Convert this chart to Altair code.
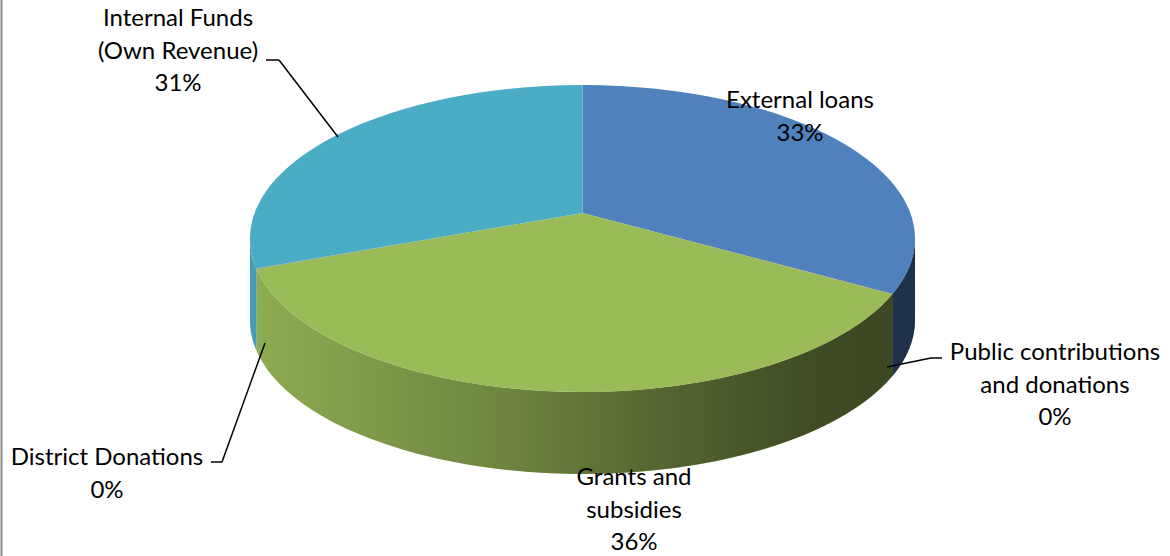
import altair as alt
import pandas as pd

# ---- data ----
CATEGORIES = ["External loans", "Public contributions and donations", "Grants and subsidies",
              "District Donations", "Internal Funds (Own Revenue)"]
LABELS = ["External loans", "Public contributions\nand donations", "Grants and\nsubsidies",
          "District Donations", "Internal Funds\n(Own Revenue)"]
VALUES = [33.3, 0.02, 36.0, 0.02, 30.7]

# ---- style / layout ----
TOP_COLORS = ["#4F81BD", "#C0504D", "#9BBB59", "#8064A2", "#4BACC6"]
LABEL_X = [800, 1055, 634, 107, 178]
LABEL_Y = [101, 353, 478, 458, 19]
LEADERS = [  # x1, y1, x2, y2
    (266, 60, 279, 60), (279, 60, 338, 137),
    (942, 358, 931, 358), (931, 358, 887, 367),
    (211, 462, 222, 462), (222, 462, 265, 343),
]
W, H = 1170, 556
CX, CY = 582.5, 213          # pie centre (apex) on screen
S = 327.9                     # pixel scale of unit radius
A = 0.166                     # perspective strength
B = 0.4552                    # vertical squash (tilt)
D = round(82 / S, 5)          # pie thickness
RXP = round(1 / (1 - A * A) ** 0.5, 5)
RYP = round(B / (1 - A * A), 5)
SIZE = (2 * S) ** 2
FONT = "Lato"
NSEG = 4

df = pd.DataFrame({
    "order": list(range(len(CATEGORIES))),
    "category": CATEGORIES,
    "label": LABELS,
    "value": VALUES,
    "color": TOP_COLORS,
    "lx": LABEL_X,
    "ly": LABEL_Y,
})


def px(t):
    return f"(round(sin({t})/(1+{A}*cos({t}))*100000)/100000)"


def py(t, off=0.0):
    return f"(round((-{B}*cos({t})/(1+{A}*cos({t}))+{off})*100000)/100000)"


def pt(t, off=0.0):
    return px(t) + " + ',' + " + py(t, off)


def arcs(s, e, sweep, off=0.0):
    out = ""
    for i in range(1, NSEG + 1):
        t = f"(({s})+(({e})-({s}))*{i}/{NSEG})"
        out += f" + ' A{RXP},{RYP} 0 0 {sweep} ' + " + pt(t, off)
    return out


top_expr = "'M0,0 L' + " + pt("datum.a0") + arcs("datum.a0", "datum.a1", 1) + " + ' Z'"
side_expr = ("'M' + " + pt("datum.s") + arcs("datum.s", "datum.e", 1)
             + " + ' L' + " + pt("datum.e", D) + arcs("datum.e", "datum.s", 0, D) + " + ' Z'")

base = (
    alt.Chart(df)
    .transform_joinaggregate(total="sum(value)")
    .transform_window(cum="sum(value)", frame=[None, 0], sort=[alt.SortField("order")])
    .transform_calculate(
        a0="2*PI*(datum.cum - datum.value)/datum.total",
        a1="2*PI*datum.cum/datum.total",
    )
)

sym_enc = dict(x=alt.value(CX), y=alt.value(CY), size=alt.value(SIZE))

sides = (
    base.transform_calculate(s=f"max(datum.a0, acos(-{A}))", e=f"min(datum.a1, 2*PI - acos(-{A}))")
    .transform_filter("datum.s < datum.e")
    .transform_calculate(path=side_expr)
    .mark_point(filled=True, opacity=1, strokeWidth=0)
    .encode(shape=alt.Shape("path:N", scale=None), fill=alt.Fill("color:N", scale=None), **sym_enc)
)

shade = (
    alt.Chart(pd.DataFrame({"k": [0]}))
    .transform_calculate(s=f"acos(-{A})", e=f"2*PI - acos(-{A})")
    .transform_calculate(path=side_expr)
    .mark_point(
        filled=True, opacity=1, strokeWidth=0,
        fill=alt.LinearGradient(
            gradient="linear", x1=0, y1=0, x2=1, y2=0,
            stops=[
                alt.GradientStop(offset=0.0, color="rgba(0,0,0,0.08)"),
                alt.GradientStop(offset=0.4, color="rgba(0,0,0,0.30)"),
                alt.GradientStop(offset=0.65, color="rgba(0,0,0,0.48)"),
                alt.GradientStop(offset=0.85, color="rgba(0,0,0,0.60)"),
                alt.GradientStop(offset=1.0, color="rgba(0,0,0,0.62)"),
            ],
        ),
    )
    .encode(shape=alt.Shape("path:N", scale=None), **sym_enc)
)

tops = (
    base.transform_calculate(path=top_expr)
    .mark_point(filled=True, opacity=1, strokeWidth=0)
    .encode(shape=alt.Shape("path:N", scale=None), fill=alt.Fill("color:N", scale=None), **sym_enc)
)

leaders = (
    alt.Chart(pd.DataFrame(LEADERS, columns=["x1", "y1", "x2", "y2"]))
    .mark_rule(color="black", strokeWidth=1.5)
    .encode(
        x=alt.X("x1:Q", scale=None), y=alt.Y("y1:Q", scale=None),
        x2="x2:Q", y2="y2:Q",
    )
)

labels = (
    base.transform_calculate(txt="datum.label + '\\n' + format(datum.value/datum.total, '.0%')")
    .mark_text(font=FONT, fontSize=24, lineHeight=32.5, align="center", baseline="middle",
               color="black", lineBreak="\n")
    .encode(x=alt.X("lx:Q", scale=None), y=alt.Y("ly:Q", scale=None), text="txt:N")
)

border = (
    alt.Chart(pd.DataFrame({"a": [0]}))
    .mark_rule(color="#8c8c8c", strokeWidth=2)
    .encode(x=alt.value(1.5), y=alt.value(0), y2=alt.value(H))
)

chart = (
    alt.layer(sides, shade, tops, leaders, labels, border)
    .properties(width=W, height=H, autosize=alt.AutoSizeParams(type="none"), padding=0,
                background="white")
    .configure_view(stroke=None)
)

chart.save("out.html", embed_options={"renderer": "svg", "actions": False})
